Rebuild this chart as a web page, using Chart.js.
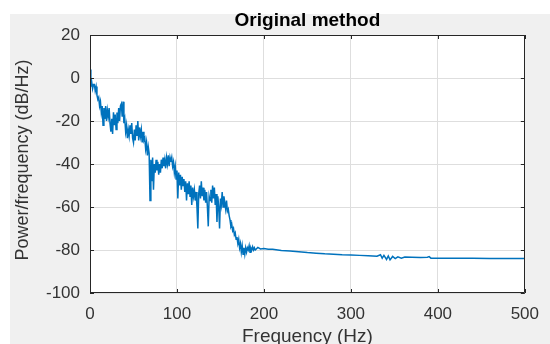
<!DOCTYPE html>
<html><head><meta charset="utf-8">
<script src="https://cdn.jsdelivr.net/npm/chart.js@4"></script>
<style>html,body{margin:0;padding:0;background:#fff}#wrap{width:550px;height:344px;position:relative}</style>
</head><body><div id="wrap"><canvas id="c" width="550" height="344"></canvas></div>
<script>
const titleText = "Original method";
const xTitle = "Frequency (Hz)";
const yTitle = "Power/frequency (dB/Hz)";
const xTicks = [0, 100, 200, 300, 400, 500];
const yTicks = [-100, -80, -60, -40, -20, 0, 20];

const freq = [
  0,1,2,3,4,5,6,7,8,9,
  10,11,12,13,14,15,16,17,18,19,
  20,21,22,23,24,25,26,27,28,29,
  30,31,32,33,34,35,36,37,38,39,
  40,41,42,43,44,45,46,47,48,49,
  50,51,52,53,54,55,56,57,58,59,
  60,61,62,63,64,65,66,67,68,69,
  70,71,72,73,74,75,76,77,78,79,
  80,81,82,83,84,85,86,87,88,89,
  90,91,92,93,94,95,96,97,98,99,
  100,101,102,103,104,105,106,107,108,109,
  110,111,112,113,114,115,116,117,118,119,
  120,121,122,123,124,125,126,127,128,129,
  130,131,132,133,134,135,136,137,138,139,
  140,141,142,143,144,145,146,147,148,149,
  150,151,152,153,154,155,156,157,158,159,
  160,161,162,163,164,165,166,167,168,169,
  170,171,172,173,174,175,176,177,178,179,
  180,181,182,183,184,185,186,187,188,189,190,
  193,196,200,205,210,
  220,230,240,250,260,270,280,290,300,310,320,330,
  334,336,338,341,343,345,348,351,354,358,362,
  370,380,388,390,392,400,
  420,440,460,480,500
];

const power = [
  4,-4,-2,-5,-3,-3,-6,-4,-8,-10,
  -9,-13,-11,-16,-13,-22,-14,-19,-13,-20,
  -15,-18,-14,-21,-25,-19,-26,-16,-22,-17,
  -24,-16,-21,-14,-20,-13,-12,-18,-11,-21,
  -19,-25,-22,-28,-24,-27,-22,-26,-21,-28,
  -30,-24,-29,-22,-27,-20,-29,-23,-27,-24,
  -30,-25,-29,-28,-33,-30,-36,-32,-35,-57,
  -38,-48,-37,-52,-40,-44,-38,-43,-39,-45,
  -40,-44,-38,-42,-37,-41,-38,-42,-37,-40,
  -36,-41,-37,-39,-37,-41,-39,-44,-41,-47,
  -43,-56,-44,-50,-45,-52,-46,-50,-47,-53,
  -48,-57,-49,-54,-48,-55,-50,-59,-51,-55,
  -52,-57,-53,-60,-70,-54,-50,-56,-48,-55,
  -51,-57,-52,-58,-53,-60,-69,-55,-57,-52,
  -58,-50,-56,-51,-59,-54,-67,-55,-60,-70,
  -56,-59,-53,-60,-55,-58,-61,-57,-62,-61,
  -64,-66,-69,-68,-71,-70,-73,-72,-75,-74,
  -77,-75,-79,-77,-81,-78,-82,-79,-82,-79,
  -81,-79,-80,-78,-81,-79,-80,-78.5,-80,-79,-80,
  -78.8,-79.5,-79.3,-79.6,-79.7,
  -80.2,-80.5,-80.8,-81.2,-81.5,-81.8,-82,-82.2,-82.3,-82.5,-82.7,-82.9,
  -82.2,-83.8,-82.5,-84.4,-82.8,-84.6,-83,-84,-83.2,-83.8,-83.3,
  -83.4,-83.5,-83.4,-83.1,-83.8,-83.8,
  -83.8,-83.8,-83.9,-83.9,-83.9
];

const FONT = "'Liberation Sans', Arial, Helvetica, sans-serif";
const TXT = '#333333';
const AXIS = '#262626';

const bgPlugin = {
  id: 'bg',
  beforeDraw(chart) {
    const c = chart.ctx, a = chart.chartArea;
    c.save();
    c.fillStyle = '#ffffff';
    c.fillRect(0, 0, chart.width, chart.height);
    c.fillStyle = '#f0f0f0';
    c.fillRect(10, 14, chart.width - 10, chart.height - 14);
    c.fillStyle = '#ffffff';
    c.fillRect(a.left, a.top, a.right - a.left, a.bottom - a.top);
    c.restore();
  }
};

const decoPlugin = {
  id: 'deco',
  afterDraw(chart) {
    const c = chart.ctx, a = chart.chartArea;
    const xs = chart.scales.x, ys = chart.scales.y;
    c.save();
    c.strokeStyle = AXIS;
    c.lineWidth = 1;
    c.beginPath();
    c.rect(Math.round(a.left) + 0.5, Math.round(a.top) + 0.5,
           Math.round(a.right - a.left) - 1, Math.round(a.bottom - a.top) - 1);
    c.stroke();
    const tl = 4;
    c.beginPath();
    xTicks.forEach(v => {
      const px = Math.round(xs.getPixelForValue(v)) + 0.5;
      c.moveTo(px, a.bottom); c.lineTo(px, a.bottom - tl);
      c.moveTo(px, a.top); c.lineTo(px, a.top + tl);
    });
    yTicks.forEach(v => {
      const py = Math.round(ys.getPixelForValue(v)) + 0.5;
      c.moveTo(a.left, py); c.lineTo(a.left + tl, py);
      c.moveTo(a.right, py); c.lineTo(a.right - tl, py);
    });
    c.stroke();
    c.fillStyle = '#000';
    c.textAlign = 'center';
    c.textBaseline = 'middle';
    c.font = 'bold 19px ' + FONT;
    c.fillText(titleText, (a.left + a.right) / 2, 21);
    c.fillStyle = TXT;
    c.font = '19px ' + FONT;
    c.fillText(xTitle, (a.left + a.right) / 2, 337);
    c.save();
    c.translate(23, 160);
    c.rotate(-Math.PI / 2);
    c.font = '18px ' + FONT;
    c.fillText(yTitle, 0, 0);
    c.restore();
    c.restore();
  }
};

new Chart(document.getElementById('c'), {
  type: 'line',
  data: {
    datasets: [{
      data: freq.map((f, i) => ({ x: f, y: power[i] })),
      borderColor: '#0072BD',
      borderWidth: 1.5,
      pointRadius: 0,
      tension: 0,
      fill: false
    }]
  },
  options: {
    responsive: false,
    devicePixelRatio: 1,
    animation: false,
    layout: { padding: { top: 35, right: 25, left: 0, bottom: 0 } },
    plugins: { legend: { display: false }, tooltip: { enabled: false }, title: { display: false } },
    scales: {
      x: {
        type: 'linear', min: 0, max: 500,
        afterBuildTicks: s => { s.ticks = xTicks.map(v => ({ value: v })); },
        afterFit: s => { s.height = 51; },
        grid: { color: '#dedede', drawTicks: false },
        border: { display: false },
        ticks: { font: { family: FONT, size: 17 }, color: TXT, padding: 11, maxRotation: 0, autoSkip: false }
      },
      y: {
        type: 'linear', min: -100, max: 20,
        afterBuildTicks: s => { s.ticks = yTicks.map(v => ({ value: v })); },
        afterFit: s => { s.width = 90; },
        grid: { color: '#dedede', drawTicks: false },
        border: { display: false },
        ticks: { font: { family: FONT, size: 17 }, color: TXT, padding: 10, autoSkip: false }
      }
    }
  },
  plugins: [bgPlugin, decoPlugin]
});
</script></body></html>
